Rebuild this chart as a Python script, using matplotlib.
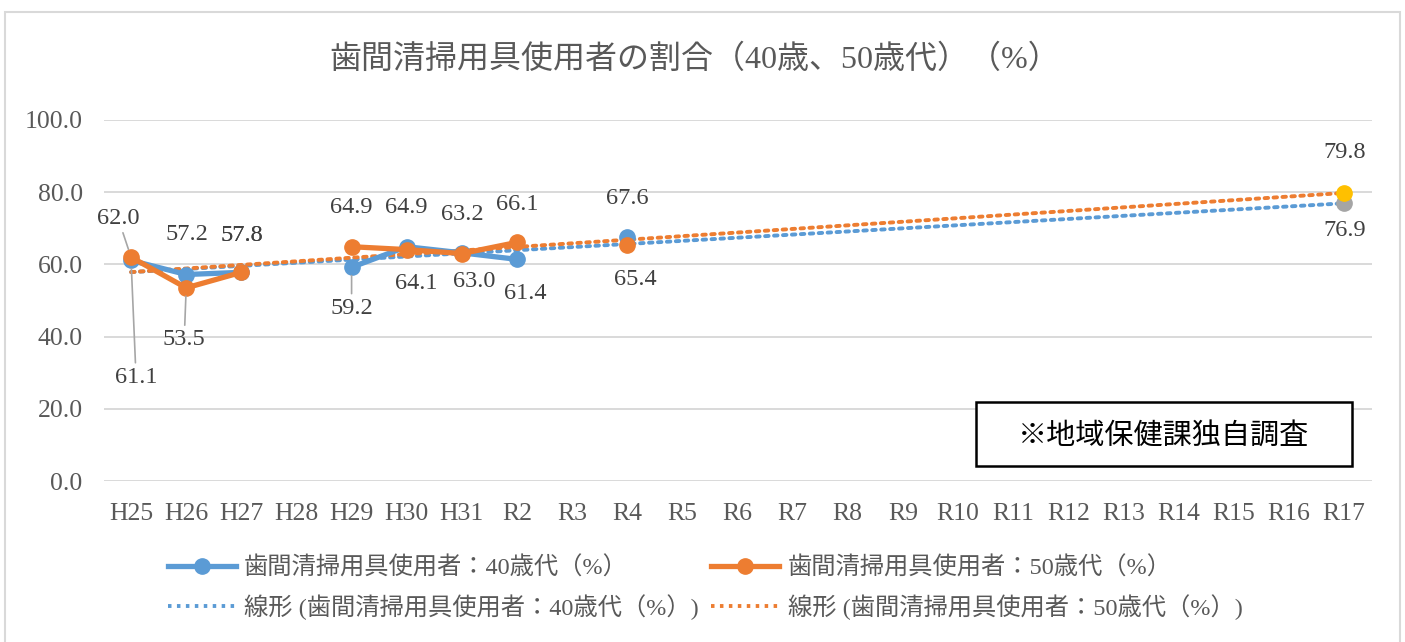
import numpy as np
import matplotlib
matplotlib.use("Agg")
import matplotlib.pyplot as plt
from matplotlib.lines import Line2D
from matplotlib.patches import Rectangle

plt.rcParams['font.family'] = ['Liberation Serif', 'Noto Sans CJK JP', 'DejaVu Sans']

# data (None = no survey that year)
years = ['H25', 'H26', 'H27', 'H28', 'H29', 'H30', 'H31', 'R2', 'R3', 'R4',
         'R5', 'R6', 'R7', 'R8', 'R9', 'R10', 'R11', 'R12', 'R13', 'R14',
         'R15', 'R16', 'R17']
age40 = [61.1, 57.2, 57.8, None, 59.2, 64.9, 63.2, 61.4, None, 67.6,
         None, None, None, None, None, None, None, None, None, None,
         None, None, 76.9]
age50 = [62.0, 53.5, 57.8, None, 64.9, 64.1, 63.0, 66.1, None, 65.4,
         None, None, None, None, None, None, None, None, None, None,
         None, None, 79.8]

title = '歯間清掃用具使用者の割合（40歳、50歳代）（%）'
name40 = '歯間清掃用具使用者：40歳代（%）'
name50 = '歯間清掃用具使用者：50歳代（%）'
note = '※地域保健課独自調査'

# label offsets in pixels (dx, dy), leader line flag
off40 = {0: (5, -117, True), 1: (1, 40, False), 2: (0, 37, False), 4: (0, -41, True),
         5: (0, 39, False), 6: (0, 38, False), 7: (8, -34, False), 9: (0, 38, False),
         22: (1, -27, False)}
off50 = {0: (-13, 39, True), 1: (-2, -52, True), 2: (0, 37, False), 4: (0, 39, False),
         5: (10, -34, False), 6: (12, -28, False), 7: (0, 38, False), 9: (8, -35, False),
         22: (1, 40, False)}

blue = '#5B9BD5'
orange = '#ED7D31'
grey = '#A5A5A5'
gold = '#FFC000'
txt = '#595959'
dots = (0, (0.9, 1.4))

fig = plt.figure(figsize=(14.05, 6.42), dpi=100)
ax = fig.add_axes([103.5 / 1405, 1 - 481 / 642, 1268 / 1405, 361 / 642])

x = np.arange(len(years))
y40 = np.array([np.nan if v is None else v for v in age40], dtype=float)
y50 = np.array([np.nan if v is None else v for v in age50], dtype=float)

# linear trend lines (Excel style, over all points incl. target)
for y, c in [(y40, blue), (y50, orange)]:
    m = ~np.isnan(y)
    k, b = np.polyfit(x[m], y[m], 1)
    ax.plot([x[0], x[-1]], [b, b + k * x[-1]], color=c, lw=2.8,
            linestyle=dots, dash_capstyle='round', zorder=3)

ax.plot(x[:-1], y40[:-1], color=blue, lw=3.8, marker='o', ms=11, zorder=4)
ax.plot(x[:-1], y50[:-1], color=orange, lw=3.8, marker='o', ms=11, zorder=5)
ax.plot(x[-1], y40[-1], 'o', color=grey, ms=11, zorder=4)
ax.plot(x[-1], y50[-1], 'o', color=gold, ms=11, zorder=5)

for y, offs in [(y40, off40), (y50, off50)]:
    for i, (dx, dy, lead) in offs.items():
        ap = None
        if lead:
            ap = dict(arrowstyle='-', color='#A6A6A6', lw=1.2, shrinkA=1, shrinkB=6)
        ax.annotate(f'{y[i]:.1f}', (x[i], y[i]), xytext=(dx, dy),
                    textcoords='offset pixels', ha='center', va='center',
                    fontsize=17.5, color='#404040', arrowprops=ap, zorder=6)

ax.set_xlim(-0.5, len(years) - 0.5)
ax.set_ylim(0, 100)
ax.set_yticks(np.arange(0, 101, 20))
ax.set_yticklabels([f'{v:.1f}' for v in np.arange(0, 101, 20)])
ax.set_xticks(x)
ax.set_xticklabels(years)
ax.tick_params(length=0, labelsize=18.5, labelcolor=txt)
ax.tick_params(axis='y', pad=15)
ax.tick_params(axis='x', pad=16)
ax.grid(axis='y', color='#D9D9D9', lw=1.4)
ax.set_axisbelow(True)
for s in ax.spines.values():
    s.set_visible(False)

fig.text(695 / 1405, 1 - 60 / 642, title, ha='center', va='center',
         fontsize=23, color=txt)

# note box
fig.patches.append(Rectangle((976 / 1405, 1 - 466 / 642), 376 / 1405, 64 / 642,
                             transform=fig.transFigure, fc='white', ec='black',
                             lw=1.8, zorder=5))
fig.text(1164 / 1405, 1 - 436 / 642, note, ha='center', va='center',
         fontsize=21, color='black', zorder=6)

handles = [Line2D([], [], color=blue, lw=3.8, marker='o', ms=11),
           Line2D([], [], color=blue, lw=2.8, linestyle=dots),
           Line2D([], [], color=orange, lw=3.8, marker='o', ms=11),
           Line2D([], [], color=orange, lw=2.8, linestyle=dots)]
labels = [name40, f'線形 ({name40})', name50, f'線形 ({name50})']
leg = fig.legend(handles, labels, ncol=2, loc='center',
                 bbox_to_anchor=(705 / 1405, 1 - 588 / 642), frameon=False,
                 fontsize=17.5, labelcolor=txt, handlelength=2.8,
                 handletextpad=0.35, columnspacing=0.5, labelspacing=0.6)

fig.patches.append(Rectangle((5 / 1405, -0.02), 1395 / 1405, 1 - 12 / 642 + 0.02,
                             transform=fig.transFigure, fill=False,
                             ec='#D9D9D9', lw=1.5))

fig.savefig('out.png', dpi=100)
